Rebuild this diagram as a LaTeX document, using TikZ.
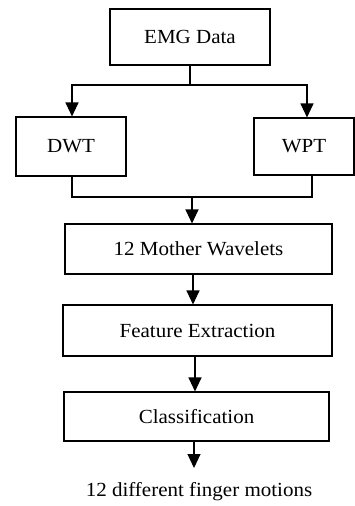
\documentclass[tikz,border=0pt]{standalone}
\usepackage{fontspec}
\setmainfont{Liberation Serif}
\usetikzlibrary{arrows.meta}
\newcommand{\wtext}[1]{\scalebox{1.05}[1]{#1}}
\begin{document}
\begin{tikzpicture}[x=1pt,y=-1pt,
  block/.style={draw, line width=1.1pt, inner sep=0pt, font=\fontsize{20}{22}\selectfont},
  flow/.style={line width=1.1pt},
  arr/.style={flow, -{Triangle[width=13pt,length=14pt]}},
  lbl/.style={inner sep=0pt, font=\fontsize{20}{22}\selectfont}]
\useasboundingbox (0,0) rectangle (355,506);

% processing blocks
\node[block, minimum width=160pt, minimum height=56pt] (emg) at (190,37) {\wtext{EMG Data}};
\node[block, minimum width=110pt, minimum height=59pt] (dwt) at (71,146.5) {\wtext{DWT}};
\node[block, minimum width=100pt, minimum height=57pt] (wpt) at (304,146.5) {\wtext{WPT}};
\node[block, minimum width=267pt, minimum height=50pt] (mw) at (198.5,249) {\wtext{12 Mother Wavelets}};
\node[block, minimum width=269pt, minimum height=51pt] (fe) at (197.5,330.5) {\wtext{Feature Extraction}};
\node[block, minimum width=265pt, minimum height=49pt] (cl) at (196.5,416.5) {\wtext{Classification}};
\node[lbl] (out) at (199,492) {\wtext{12 different finger motions}};

% split after the data block
\coordinate (split) at (190,85);
\draw[flow] (emg.south) -- (split);
\draw[arr] (split) -| ([xshift=1pt]dwt.north);
\draw[arr] (split) -| ([xshift=3pt]wpt.north);

% merge of the two transforms
\coordinate (merge) at (192,197);
\draw[flow] ([xshift=1pt]dwt.south) |- (merge);
\draw[flow] ([xshift=8pt]wpt.south) |- (merge);
\draw[arr] (merge) -- ([xshift=-6.5pt]mw.north);

% main chain
\draw[arr] ([xshift=-5.5pt]mw.south) -- ([xshift=-4.5pt]fe.north);
\draw[arr] ([xshift=-2.5pt]fe.south) -- ([xshift=-1.5pt]cl.north);
\coordinate (outtip) at (194,468);
\draw[arr] ([xshift=-2.5pt]cl.south) -- (outtip);
\end{tikzpicture}
\end{document}
